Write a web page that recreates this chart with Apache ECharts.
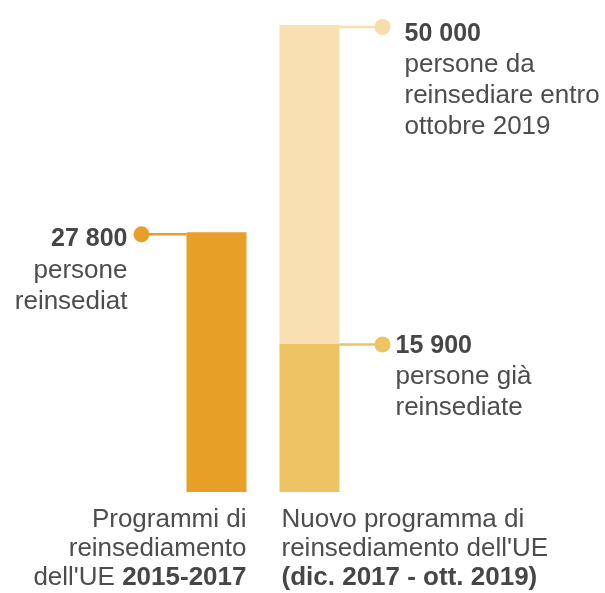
<!DOCTYPE html>
<html>
<head>
<meta charset="utf-8">
<script src="https://cdn.jsdelivr.net/npm/echarts@6/dist/echarts.min.js"></script>
<style>
html, body { margin: 0; padding: 0; background: #fff; }
#main { width: 605px; height: 593px; }
</style>
</head>
<body>
<div id="main"></div>
<script>
// dati
var categories = ['Programmi 2015-2017', 'Nuovo programma 2017-2019'];
var reinsediati = [27800, '-'];
var giaReinsediati = ['-', 15900];
var obiettivo = ['-', 50000];
var daReinsediare = obiettivo.map(function (v, i) {
  return v === '-' ? '-' : v - giaReinsediati[i];
});
var numberLabels = ['27 800', '15 900', '50 000'];
var noteLines = [
  ['persone', 'reinsediat'],
  ['persone già', 'reinsediate'],
  ['persone da', 'reinsediare entro', 'ottobre 2019']
];
var catLines = [
  ['{n|Programmi di}', '{n|reinsediamento}', "{n|dell'UE }{b|2015-2017}"],
  ['{n|Nuovo programma di}', "{n|reinsediamento dell'UE}", '{b|(dic. 2017 - ott. 2019)}']
];

var colors = ['#E89F27', '#EEC364', '#F8E0B3'];
var textColor = '#4d4d4d';
var font = 'Liberation Sans, Arial, sans-serif';
var barWidth = 60;

var chart = echarts.init(document.getElementById('main'));

var option = {
  animation: false,
  grid: { left: 170, width: 186, top: 25, bottom: 101 },
  xAxis: {
    type: 'category',
    data: categories,
    show: false
  },
  yAxis: {
    type: 'value',
    min: 0,
    max: 50000,
    show: false
  },
  series: [
    { name: 'reinsediati', type: 'bar', stack: 'tot', barWidth: barWidth, data: reinsediati, itemStyle: { color: colors[0] } },
    { name: 'già reinsediati', type: 'bar', stack: 'tot', barWidth: barWidth, data: giaReinsediati, itemStyle: { color: colors[1] } },
    { name: 'da reinsediare', type: 'bar', stack: 'tot', barWidth: barWidth, data: daReinsediare, itemStyle: { color: colors[2] } }
  ]
};
chart.setOption(option);

function px(i, v) {
  return chart.convertToPixel({ gridIndex: 0 }, [i, v]);
}

function richStyle(lh, boldSize) {
  return {
    b: { fontFamily: font, fontSize: boldSize, fontWeight: 'bold', fill: '#464646', lineHeight: lh },
    n: { fontFamily: font, fontSize: 26, fill: textColor, lineHeight: lh }
  };
}

function block(num, lines) {
  var s = '{b|' + num + '}';
  lines.forEach(function (l) { s += '\n{n|' + l + '}'; });
  return s;
}

var els = [];
function callout(x0, y0, dx, color, textX, align, text, textDy) {
  els.push({ type: 'line', shape: { x1: x0, y1: y0, x2: x0 + dx, y2: y0 }, style: { stroke: color, lineWidth: 2.5 } });
  els.push({ type: 'circle', shape: { cx: x0 + dx, cy: y0, r: 8 }, style: { fill: color } });
  els.push({ type: 'text', x: textX, y: y0 + textDy, style: { text: text, rich: richStyle(31, 25), align: align, verticalAlign: 'top', fill: textColor } });
}

// programmi precedenti
var p0 = px(0, reinsediati[0]);
var left0 = p0[0] - barWidth / 2;
callout(left0, p0[1] + 2, -45, colors[0], left0 - 59, 'right', block(numberLabels[0], noteLines[0]), -10.5);

// nuovo programma
var p1 = px(1, giaReinsediati[1]);
var right1 = p1[0] + barWidth / 2;
callout(right1, p1[1] + 1, 43, colors[1], right1 + 56, 'left', block(numberLabels[1], noteLines[1]), -14);

var p2 = px(1, obiettivo[1]);
callout(right1, p2[1] + 2, 43, '#F7DDAB', right1 + 65, 'left', block(numberLabels[2], noteLines[2]), -8.5);

// etichette categorie
var base = px(0, 0)[1];
var c0 = px(0, 0)[0], c1 = px(1, 0)[0];
els.push({ type: 'text', x: c0 + barWidth / 2, y: base + 13, style: { text: catLines[0].join('\n'), rich: richStyle(29, 26), align: 'right', verticalAlign: 'top', fill: textColor } });
els.push({ type: 'text', x: c1 - barWidth / 2 + 2, y: base + 13, style: { text: catLines[1].join('\n'), rich: richStyle(29, 26), align: 'left', verticalAlign: 'top', fill: textColor } });

chart.setOption({ graphic: els });
</script>
</body>
</html>
